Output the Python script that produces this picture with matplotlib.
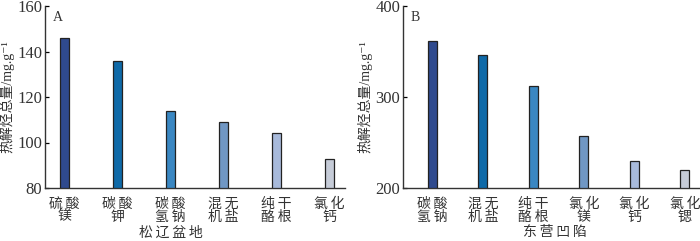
import numpy as np
import matplotlib
matplotlib.use("Agg")
import matplotlib.pyplot as plt

plt.rcParams['font.family'] = ['Liberation Serif', 'Noto Sans CJK SC', 'DejaVu Sans']

sp = "\u2009"

# panel A - 松辽盆地
labels_a = ["硫酸\n镁", "碳酸\n钾", "碳酸\n氢钠", "混无\n机盐", "纯干\n酪根", "氯化\n钙"]
values_a = [146.0, 135.8, 113.8, 109.1, 104.3, 92.6]

# panel B - 东营凹陷
labels_b = ["碳酸\n氢钠", "混无\n机盐", "纯干\n酪根", "氯化\n镁", "氯化\n钙", "氯化\n锶"]
values_b = [361.0, 346.5, 312.0, 257.0, 229.5, 219.8]

colors = ["#2f4a8e", "#0f6aa8", "#3a87c2", "#7097c4", "#a8badb", "#c6ccd8"]

ylabel = "热解烃总量/mg.g⁻¹"


def spaced(s):
    return "\n".join(sp.join(line) for line in s.split("\n"))


fig = plt.figure(figsize=(7.0, 2.41), dpi=100)
W, H = 700.0, 241.0

ax1 = fig.add_axes([45 / W, 1 - 188 / H, 300 / W, 182 / H])
ax2 = fig.add_axes([403 / W, 1 - 188 / H, 297 / W, 182 / H])


def draw(ax, labels, values, ylim, yticks, xlim, tag, xlab, xlab_pos):
    x = np.arange(len(values))
    ax.bar(x, np.array(values) - ylim[0], bottom=ylim[0], width=0.18,
           color=colors, edgecolor="#222222", linewidth=0.9, zorder=3)
    ax.set_ylim(*ylim)
    ax.set_xlim(*xlim)
    ax.set_yticks(yticks)
    ax.set_yticklabels([str(v) for v in yticks], fontsize=12, color="#333333")
    ax.set_xticks(x)
    ax.set_xticklabels([spaced(l) for l in labels], fontsize=10,
                       color="#333333", linespacing=1.0)
    ax.tick_params(axis="x", length=0, pad=7)
    ax.tick_params(axis="y", direction="in", length=3, width=0.9, pad=2)
    for s in ["top", "right"]:
        ax.spines[s].set_visible(False)
    for s in ["left", "bottom"]:
        ax.spines[s].set_linewidth(1.0)
        ax.spines[s].set_color("#333333")
    ax.set_ylabel(ylabel, fontsize=10, color="#333333", labelpad=2)
    ax.set_xlabel(spaced(xlab), fontsize=10, color="#333333")
    ax.xaxis.set_label_coords(xlab_pos, -0.21)
    ax.text(0.025, 0.97, tag, transform=ax.transAxes, fontsize=10,
            color="#333333", va="top", ha="left")


draw(ax1, labels_a, values_a, (80, 160), [80, 100, 120, 140, 160],
     (-0.37, 5.29), "A", "松辽盆地", 0.42)
draw(ax2, labels_b, values_b, (200, 400), [200, 300, 400],
     (-0.58, 5.3), "B", "东营凹陷", 0.51)

fig.savefig("out.png", dpi=100)
